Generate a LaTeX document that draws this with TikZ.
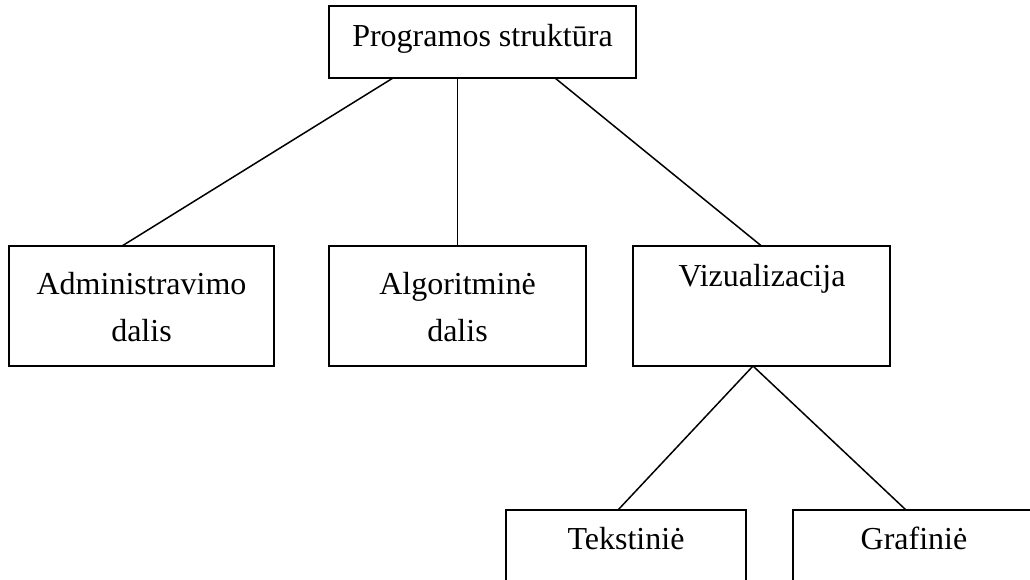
\documentclass[tikz,border=0pt]{standalone}
\usepackage{fontspec}
\setmainfont{Liberation Serif}
\begin{document}
\begin{tikzpicture}[x=1pt,y=-1pt,
  box/.style={draw,line width=1.8pt,rectangle,inner sep=0pt,outer sep=0pt},
  lbl/.style={anchor=base,inner sep=0pt,font=\fontsize{32}{47}\selectfont},
  link/.style={line width=1.5pt}]
  \clip (0,0) rectangle (1030,580);
  \useasboundingbox (0,0) rectangle (1030,580);
  % boxes
  \node[box,minimum width=307pt,minimum height=72pt] (top) at (482.5,42) {};
  \node[box,minimum width=265pt,minimum height=120pt] (adm) at (141.5,306) {};
  \node[box,minimum width=257pt,minimum height=120pt] (alg) at (457.5,306) {};
  \node[box,minimum width=257pt,minimum height=120pt] (viz) at (761.5,306) {};
  \node[box,minimum width=240pt,minimum height=120pt] (tek) at (626,570) {};
  \node[box,minimum width=240pt,minimum height=120pt] (gra) at (913,570) {};
  % texts
  \node[lbl] (topT) at (482.5,47) {Programos struktūra};
  \node[lbl] (admT1) at (141.5,294) {Administravimo};
  \node[lbl] (admT2) at (141.5,341) {dalis};
  \node[lbl] (algT1) at (457.5,294) {Algoritminė};
  \node[lbl] (algT2) at (457.5,341) {dalis};
  \node[lbl] (vizT) at (762,286) {Vizualizacija};
  \node[lbl] (tekT) at (626,549) {Tekstiniė};
  \node[lbl] (graT) at (914,549) {Grafiniė};
  % connectors
  \draw[link] ([xshift=-89.5pt]top.south) -- ([xshift=-19.5pt]adm.north);
  \draw[link] (top.south -| alg.north) -- (alg.north);
  \draw[link] ([xshift=72.5pt]top.south) -- (viz.north);
  \draw[link] ([xshift=-8.5pt]viz.south) -- ([xshift=-8pt]tek.north);
  \draw[link] ([xshift=-8.5pt]viz.south) -- ([xshift=-7pt]gra.north);
\end{tikzpicture}
\end{document}
